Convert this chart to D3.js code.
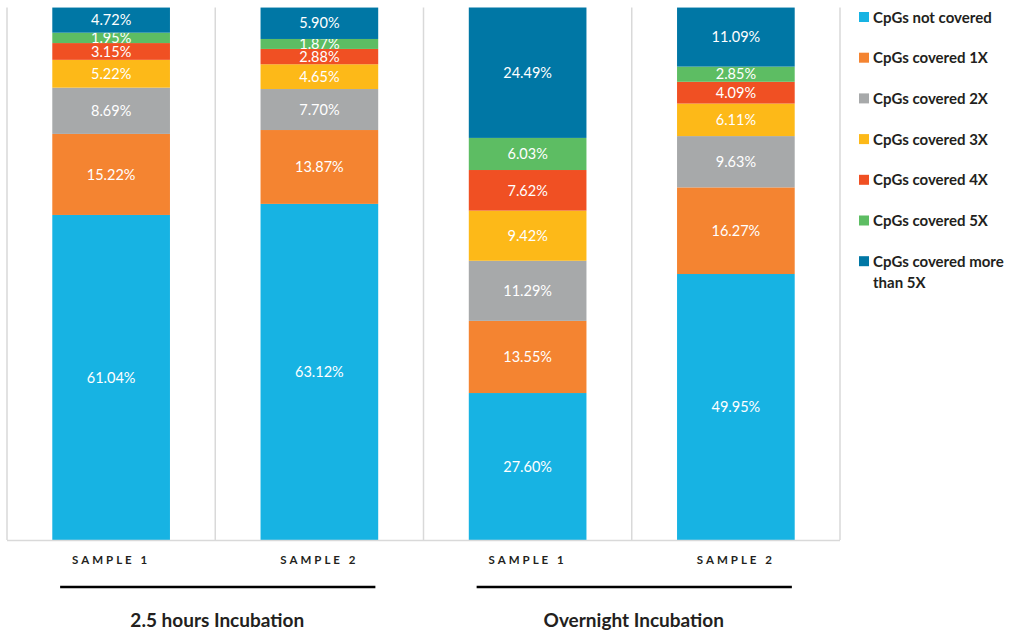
<!DOCTYPE html>
<html>
<head>
<meta charset="utf-8">
<script src="https://cdn.jsdelivr.net/npm/d3@7"></script>
<style>
  body { margin: 0; background: #fff; }
  text { font-family: Lato, "Open Sans", sans-serif; }
</style>
</head>
<body>
<svg id="chart" width="1015" height="632"></svg>
<script>
// categories and series
var samples = ["SAMPLE 1", "SAMPLE 2", "SAMPLE 1", "SAMPLE 2"];
var groups = ["2.5 hours Incubation", "Overnight Incubation"];
var seriesNames = ["CpGs not covered", "CpGs covered 1X", "CpGs covered 2X", "CpGs covered 3X",
                   "CpGs covered 4X", "CpGs covered 5X", "CpGs covered more than 5X"];
var seriesColors = ["#17b3e3", "#f48431", "#a7a9aa", "#fdb918", "#f05023", "#5dbd63", "#0077a5"];

// values per series, one entry per bar
var notCovered = [61.04, 63.12, 27.60, 49.95];
var covered1X  = [15.22, 13.87, 13.55, 16.27];
var covered2X  = [8.69, 7.70, 11.29, 9.63];
var covered3X  = [5.22, 4.65, 9.42, 6.11];
var covered4X  = [3.15, 2.88, 7.62, 4.09];
var covered5X  = [1.95, 1.87, 6.03, 2.85];
var coveredMore = [4.72, 5.90, 24.49, 11.09];

var series = [notCovered, covered1X, covered2X, covered3X, covered4X, covered5X, coveredMore];

var margin = {top: 7.5, left: 7, right: 175, bottom: 92};
var svg = d3.select("#chart"),
    width = 1015 - margin.left - margin.right,
    height = 632 - margin.top - margin.bottom;

var g = svg.append("g").attr("transform", "translate(" + margin.left + "," + margin.top + ")");

var idx = d3.range(samples.length);
var x = d3.scaleBand().domain(idx).range([0, width]).paddingInner(0).paddingOuter(0);
var barW = x.bandwidth() * 0.565;
var y = d3.scaleLinear().domain([0, 100]).range([height, 0]);

// table for the stack
var table = idx.map(function(i) {
  var row = {i: i};
  seriesNames.forEach(function(n, k) { row[n] = series[k][i]; });
  return row;
});
var stacked = d3.stack().keys(seriesNames)(table);

// vertical gridlines at band edges
var edges = idx.map(function(i) { return x(i); }).concat([width]);
g.selectAll(".vline").data(edges).enter().append("line")
  .attr("x1", function(d) { return d; }).attr("x2", function(d) { return d; })
  .attr("y1", 0).attr("y2", height)
  .attr("stroke", "#d9d9d9").attr("stroke-width", 1.5);

// bars
var layer = g.selectAll(".layer").data(stacked).enter().append("g")
  .attr("fill", function(d, k) { return seriesColors[k]; });

layer.selectAll("rect").data(function(d) { return d; }).enter().append("rect")
  .attr("x", function(d) { return x(d.data.i) + (x.bandwidth() - barW) / 2; })
  .attr("width", barW)
  .attr("y", function(d) { return y(d[1]); })
  .attr("height", function(d) { return y(d[0]) - y(d[1]); });

layer.selectAll("text").data(function(d) { return d; }).enter().append("text")
  .attr("x", function(d) { return x(d.data.i) + x.bandwidth() / 2; })
  .attr("y", function(d) { return (y(d[0]) + y(d[1])) / 2; })
  .attr("dy", "0.36em")
  .attr("text-anchor", "middle")
  .attr("fill", "#fff")
  .style("font-size", "14.5px")
  .text(function(d) { return (d[1] - d[0]).toFixed(2) + "%"; });

// bottom axis line
g.append("line")
  .attr("x1", 0).attr("x2", width)
  .attr("y1", height + 0.5).attr("y2", height + 0.5)
  .attr("stroke", "#d9d9d9").attr("stroke-width", 1.5);

// sample labels
g.selectAll(".sample").data(idx).enter().append("text")
  .attr("x", function(i) { return x(i) + x.bandwidth() / 2; })
  .attr("y", height + 24)
  .attr("text-anchor", "middle")
  .style("font-size", "11.5px")
  .style("font-weight", "bold")
  .style("letter-spacing", "3px")
  .attr("fill", "#231f20")
  .text(function(i) { return samples[i]; });

// group underlines and titles
groups.forEach(function(name, k) {
  var a = x(k * 2) + x.bandwidth() / 2,
      b = x(k * 2 + 1) + x.bandwidth() / 2;
  g.append("line")
    .attr("x1", a - 51).attr("x2", b + 56)
    .attr("y1", height + 47).attr("y2", height + 47)
    .attr("stroke", "#000").attr("stroke-width", 2.5);
  g.append("text")
    .attr("x", (a + b) / 2 + 2)
    .attr("y", height + 87)
    .attr("text-anchor", "middle")
    .style("font-size", "19px")
    .style("font-weight", "bold")
    .attr("fill", "#231f20")
    .text(name);
});

// legend
var legend = svg.append("g").attr("transform", "translate(859,12)");
var item = legend.selectAll(".item").data(seriesNames).enter().append("g")
  .attr("transform", function(d, k) { return "translate(0," + (k * 40.7) + ")"; });
item.append("rect").attr("width", 10).attr("height", 10)
  .attr("fill", function(d, k) { return seriesColors[k]; });
item.append("text")
  .attr("x", 14).attr("y", 10.5)
  .style("font-size", "15px")
  .style("font-weight", "bold")
  .attr("fill", "#231f20")
  .each(function(d) {
    var t = d3.select(this);
    if (d === "CpGs covered more than 5X") {
      t.append("tspan").attr("x", 14).text("CpGs covered more");
      t.append("tspan").attr("x", 14).attr("dy", 21).text("than 5X");
    } else {
      t.text(d);
    }
  });
</script>
</body>
</html>
